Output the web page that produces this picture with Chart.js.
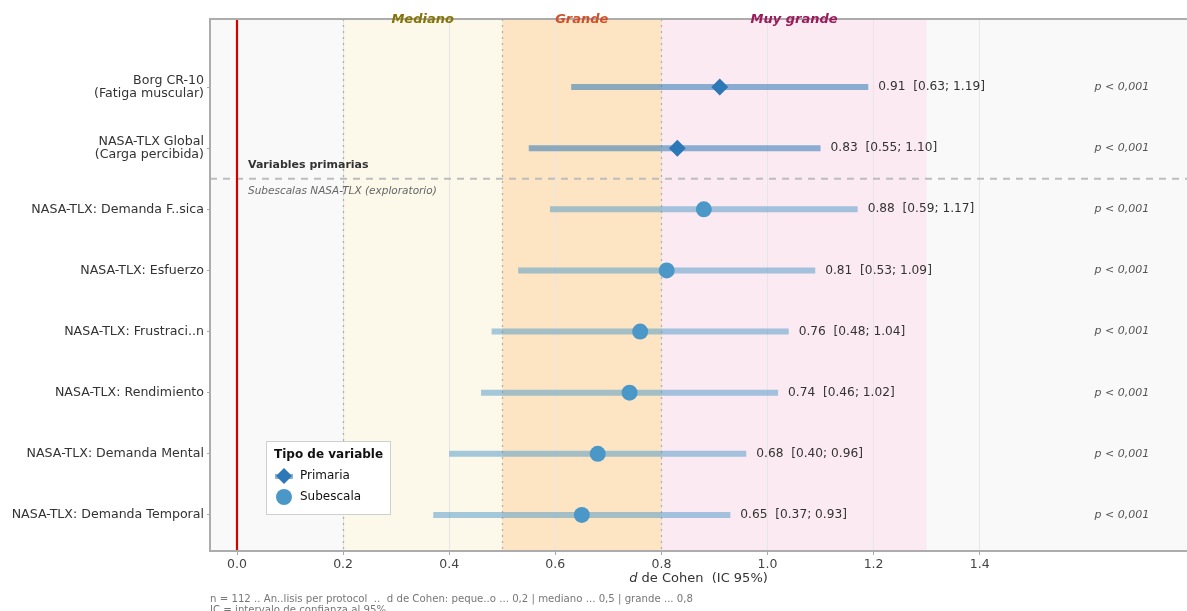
<!DOCTYPE html>
<html>
<head>
<meta charset="utf-8">
<script src="https://cdn.jsdelivr.net/npm/chart.js@4"></script>
<style>
  html, body { margin: 0; padding: 0; background: #fff; }
  canvas { display: block; }
</style>
</head>
<body>
<canvas id="forest" width="1187" height="611"></canvas>
<script>
// datos del forest plot
const labels = [
    'Borg CR-10\n(Fatiga muscular)',
    'NASA-TLX Global\n(Carga percibida)',
    'NASA-TLX: Demanda F..sica',
    'NASA-TLX: Esfuerzo',
    'NASA-TLX: Frustraci..n',
    'NASA-TLX: Rendimiento',
    'NASA-TLX: Demanda Mental',
    'NASA-TLX: Demanda Temporal'
];
const tipo = ['Primaria', 'Primaria', 'Subescala', 'Subescala', 'Subescala', 'Subescala', 'Subescala', 'Subescala'];
const dCohen = [0.91, 0.83, 0.88, 0.81, 0.76, 0.74, 0.68, 0.65];
const icLow = [0.63, 0.55, 0.59, 0.53, 0.48, 0.46, 0.40, 0.37];
const icHigh = [1.19, 1.10, 1.17, 1.09, 1.04, 1.02, 0.96, 0.93];
const pTexto = ['p < 0,001', 'p < 0,001', 'p < 0,001', 'p < 0,001', 'p < 0,001', 'p < 0,001', 'p < 0,001', 'p < 0,001'];
const xTicks = [0, 0.2, 0.4, 0.6, 0.8, 1.0, 1.2, 1.4];

// zonas de tamaño del efecto
const zonas = [
    { desde: 0.2, hasta: 0.5, fondo: '#fcf9ea', nombre: 'Mediano', color: '#857408' },
    { desde: 0.5, hasta: 0.8, fondo: '#fde5c4', nombre: 'Grande', color: '#d0502a' },
    { desde: 0.8, hasta: 1.3, fondo: '#fbeaf1', nombre: 'Muy grande', color: '#9a1a5c' }
];

const colPrim = '#2e78b7';
const colSub = '#4b98c8';
const barPrim = 'rgba(46,120,183,0.55)';
const barSub = 'rgba(75,152,200,0.5)';
const fontSans = '"DejaVu Sans", sans-serif';
const fontNarrow = '"DejaVu Sans Condensed", "Liberation Sans Narrow", "DejaVu Sans", sans-serif';

const datasets = [];
labels.forEach((l, i) => {
    datasets.push({
        type: 'line',
        data: [{ x: icLow[i], y: i }, { x: icHigh[i], y: i }],
        borderColor: tipo[i] === 'Primaria' ? barPrim : barSub,
        borderWidth: 6,
        borderCapStyle: 'butt',
        pointRadius: 0
    });
});
datasets.push({
    type: 'scatter',
    label: 'Primaria',
    data: dCohen.map((d, i) => ({ x: d, y: i })).filter((p, i) => tipo[i] === 'Primaria'),
    pointStyle: 'rectRot',
    pointRadius: 8.5,
    backgroundColor: colPrim,
    borderWidth: 0
});
datasets.push({
    type: 'scatter',
    label: 'Subescala',
    data: dCohen.map((d, i) => ({ x: d, y: i })).filter((p, i) => tipo[i] === 'Subescala'),
    pointStyle: 'circle',
    pointRadius: 8,
    backgroundColor: colSub,
    borderWidth: 0
});

// fondos, bordes, líneas de referencia y textos
const decoPlugin = {
    id: 'deco',
    beforeDraw(chart) {
        const { ctx, chartArea: a, scales: { x } } = chart;
        ctx.save();
        ctx.fillStyle = '#f9f9f9';
        ctx.fillRect(a.left, a.top, a.right - a.left, a.bottom - a.top);
        zonas.forEach(z => {
            ctx.fillStyle = z.fondo;
            const x0 = x.getPixelForValue(z.desde), x1 = x.getPixelForValue(z.hasta);
            ctx.fillRect(x0, a.top, x1 - x0, a.bottom - a.top);
        });
        ctx.restore();
    },
    beforeDatasetsDraw(chart) {
        const { ctx, chartArea: a, scales: { x, y } } = chart;
        ctx.save();
        // líneas punteadas de umbral
        ctx.strokeStyle = '#b0b0b0';
        ctx.lineWidth = 1.3;
        ctx.setLineDash([2, 4]);
        [0.2, 0.5, 0.8].forEach(v => {
            const px = Math.round(x.getPixelForValue(v)) + 0.5;
            ctx.beginPath(); ctx.moveTo(px, a.top); ctx.lineTo(px, a.bottom); ctx.stroke();
        });
        // separador primarias / subescalas
        ctx.strokeStyle = '#bdbdbd';
        ctx.lineWidth = 2;
        ctx.setLineDash([7, 6]);
        const ys = y.getPixelForValue(1.5);
        ctx.beginPath(); ctx.moveTo(a.left, ys); ctx.lineTo(a.right, ys); ctx.stroke();
        ctx.setLineDash([]);
        // línea del cero
        ctx.strokeStyle = '#d40000';
        ctx.lineWidth = 2.2;
        const x0 = x.getPixelForValue(0);
        ctx.beginPath(); ctx.moveTo(x0, a.top); ctx.lineTo(x0, a.bottom); ctx.stroke();
        // marco del panel
        ctx.strokeStyle = '#acacac';
        ctx.lineWidth = 2;
        ctx.beginPath();
        ctx.moveTo(a.right, a.top); ctx.lineTo(a.left, a.top);
        ctx.lineTo(a.left, a.bottom); ctx.lineTo(a.right, a.bottom);
        ctx.stroke();
        // textos de grupo
        ctx.textBaseline = 'middle';
        ctx.textAlign = 'left';
        ctx.fillStyle = '#333';
        ctx.font = 'bold 11px ' + fontSans;
        ctx.fillText('Variables primarias', x0 + 11, ys - 14);
        ctx.fillStyle = '#666';
        ctx.font = 'italic 10.5px ' + fontSans;
        ctx.fillText('Subescalas NASA-TLX (exploratorio)', x0 + 11, ys + 13);
        ctx.restore();
    },
    afterDraw(chart) {
        const { ctx, chartArea: a, scales: { x, y } } = chart;
        ctx.save();
        ctx.textBaseline = 'middle';
        // etiquetas de valor
        ctx.textAlign = 'left';
        ctx.fillStyle = '#333';
        ctx.font = '12.2px ' + fontSans;
        labels.forEach((l, i) => {
            const txt = dCohen[i].toFixed(2) + '  [' + icLow[i].toFixed(2) + '; ' + icHigh[i].toFixed(2) + ']';
            ctx.fillText(txt, x.getPixelForValue(icHigh[i]) + 10, y.getPixelForValue(i));
        });
        // valores p
        ctx.textAlign = 'center';
        ctx.fillStyle = '#555';
        ctx.font = 'italic 11px ' + fontSans;
        pTexto.forEach((p, i) => {
            ctx.fillText(p, x.getPixelForValue(1.668), y.getPixelForValue(i));
        });
        // nombres de zona
        ctx.font = 'bold italic 13px ' + fontSans;
        zonas.forEach(z => {
            ctx.fillStyle = z.color;
            ctx.fillText(z.nombre, x.getPixelForValue((z.desde + z.hasta) / 2), a.top + 1);
        });
        // título del eje x
        ctx.fillStyle = '#333';
        ctx.textAlign = 'left';
        ctx.font = 'italic 13px ' + fontSans;
        const w1 = ctx.measureText('d').width;
        ctx.font = '13px ' + fontSans;
        const resto = ' de Cohen  (IC 95%)';
        const w2 = ctx.measureText(resto).width;
        const cx = (a.left + a.right) / 2 - (w1 + w2) / 2;
        ctx.font = 'italic 13px ' + fontSans;
        ctx.fillText('d', cx, 579);
        ctx.font = '13px ' + fontSans;
        ctx.fillText(resto, cx + w1, 579);
        // pie
        ctx.fillStyle = '#777';
        ctx.font = '11.3px ' + fontNarrow;
        ctx.fillText('n = 112 .. An..lisis per protocol  ..  d de Cohen: peque..o ... 0,2 | mediano ... 0,5 | grande ... 0,8', a.left, 599);
        ctx.fillText('IC = intervalo de confianza al 95%', a.left, 610);
        // leyenda
        const lx = a.left + 56, ly = 441;
        ctx.fillStyle = '#fff';
        ctx.fillRect(lx, ly, 124, 73);
        ctx.strokeStyle = '#cfcfcf';
        ctx.lineWidth = 1;
        ctx.strokeRect(lx + 0.5, ly + 0.5, 124, 73);
        ctx.fillStyle = '#111';
        ctx.font = 'bold 12px ' + fontSans;
        ctx.fillText('Tipo de variable', lx + 8, ly + 14);
        ctx.font = '12px ' + fontSans;
        ctx.fillText('Primaria', lx + 34, ly + 35);
        ctx.fillText('Subescala', lx + 34, ly + 56);
        ctx.fillStyle = colPrim;
        ctx.beginPath();
        ctx.moveTo(lx + 18, ly + 27); ctx.lineTo(lx + 26, ly + 35);
        ctx.lineTo(lx + 18, ly + 43); ctx.lineTo(lx + 10, ly + 35);
        ctx.closePath(); ctx.fill();
        ctx.fillStyle = 'rgba(46,120,183,0.55)';
        ctx.fillRect(lx + 9, ly + 33, 18, 5);
        ctx.fillStyle = colSub;
        ctx.beginPath(); ctx.arc(lx + 18, ly + 56, 8, 0, Math.PI * 2); ctx.fill();
        ctx.restore();
    }
};

new Chart(document.getElementById('forest').getContext('2d'), {
    data: { datasets: datasets },
    options: {
        responsive: false,
        animation: false,
        layout: { autoPadding: false, padding: { top: 19, right: 0, bottom: 0, left: 0 } },
        plugins: {
            legend: { display: false },
            tooltip: { enabled: false }
        },
        scales: {
            x: {
                type: 'linear',
                min: -0.0509,
                max: 1.7908,
                afterBuildTicks: axis => { axis.ticks = xTicks.map(v => ({ value: v })); },
                afterFit: axis => {
                    axis.height = 60;
                    axis.paddingLeft = 0;
                    axis.paddingRight = 0;
                },
                ticks: {
                    font: { family: fontSans, size: 12.5 },
                    color: '#444',
                    padding: 2,
                    callback: v => v.toFixed(1)
                },
                grid: { color: '#e6e6e6', lineWidth: 1, tickLength: 4, tickColor: '#aaa' },
                border: { display: false }
            },
            y: {
                type: 'linear',
                reverse: true,
                min: -1.113,
                max: 7.59,
                afterBuildTicks: axis => { axis.ticks = labels.map((l, i) => ({ value: i })); },
                afterFit: axis => { axis.width = 210; },
                ticks: {
                    font: { family: fontSans, size: 12.6, lineHeight: 1.08 },
                    color: '#333',
                    padding: 3,
                    callback: v => labels[v] ? labels[v].split('\n') : ''
                },
                grid: { drawOnChartArea: false, tickLength: 3, tickColor: '#aaa' },
                border: { display: false }
            }
        }
    },
    plugins: [decoPlugin]
});
</script>
</body>
</html>
